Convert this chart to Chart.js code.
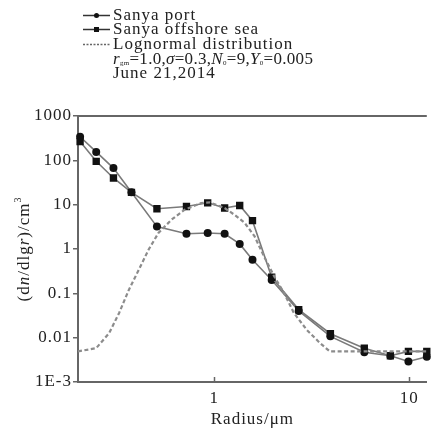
<!DOCTYPE html>
<html>
<head>
<meta charset="utf-8">
<script src="https://cdn.jsdelivr.net/npm/chart.js@4.4.0/dist/chart.umd.min.js"></script>
<style>
  html, body { margin: 0; padding: 0; background: #fff; }
  #wrap { width: 432px; height: 430px; position: relative; }
</style>
</head>
<body>
<div id="wrap"><canvas id="sizeChart" width="432" height="430"></canvas></div>
<script>
// ---------------- Data ----------------
const radiusMeasured = [0.205, 0.248, 0.304, 0.376, 0.508, 0.72, 0.925, 1.13, 1.35, 1.57, 1.97, 2.71, 3.94, 5.88, 8.0, 9.9, 12.3];
const sanyaPort = [340, 155, 67, 19, 3.2, 2.2, 2.3, 2.2, 1.3, 0.57, 0.20, 0.040, 0.0107, 0.0047, 0.0039, 0.0029, 0.0037];
const sanyaOffshore = [265, 95, 40, 19, 8.1, 9.1, 11, 8.4, 9.6, 4.35, 0.23, 0.043, 0.0123, 0.0058, 0.0039, 0.0049, 0.0049];

const radiusLognormal = [0.2, 0.248, 0.289, 0.325, 0.365, 0.41, 0.46, 0.517, 0.604, 0.705, 0.857, 0.95, 1.13, 1.27, 1.43, 1.61, 1.80, 2.03, 2.28, 2.56, 2.98, 3.48, 3.91, 12.3];
const lognormalFit = [0.0049, 0.0058, 0.0127, 0.036, 0.121, 0.34, 0.96, 2.3, 4.6, 7.7, 10.9, 11.2, 8.4, 5.9, 3.9, 1.92, 0.68, 0.24, 0.102, 0.036, 0.015, 0.0076, 0.0049, 0.0049];

const yTicks = [0.001, 0.01, 0.1, 1, 10, 100, 1000];
const yTickLabels = ['1E-3', '0.01', '0.1', '1', '10', '100', '1000'];
const xTicks = [1, 10];
const xTickLabels = ['1', '10'];

// ---------------- Styles ----------------
const FONT = "'Liberation Serif', 'Times New Roman', serif";
const TEXT = '#222';
const AXIS = '#666';
const LINE = '#7a7a7a';

const toPoints = (xs, ys) => xs.map((x, i) => ({ x: x, y: ys[i] }));

// ---------------- Extra drawing: frame, inward x ticks, y title, legend ----------------
const decorPlugin = {
    id: 'decor',
    beforeDraw(chart) {
        chart.ctx.letterSpacing = '1px';
    },
    afterDraw(chart) {
        const ctx = chart.ctx;
        const area = chart.chartArea;
        const xs = chart.scales.x;
        ctx.save();
        ctx.letterSpacing = '1px';

        // top frame line
        ctx.strokeStyle = AXIS;
        ctx.lineWidth = 2;
        ctx.beginPath();
        ctx.moveTo(area.left, area.top);
        ctx.lineTo(area.right, area.top);
        ctx.stroke();

        // inward ticks on x axis
        ctx.lineWidth = 1.5;
        xTicks.forEach(v => {
            const px = Math.round(xs.getPixelForValue(v)) + 0.5;
            ctx.beginPath();
            ctx.moveTo(px, area.bottom);
            ctx.lineTo(px, area.bottom - 5);
            ctx.stroke();
        });

        // y axis title (dn/dlgr)/cm3
        const parts = [
            { t: '(d', f: '17px ' + FONT },
            { t: 'n', f: 'italic 17px ' + FONT },
            { t: '/dlg', f: '17px ' + FONT },
            { t: 'r', f: 'italic 17px ' + FONT },
            { t: ')/cm', f: '17px ' + FONT },
            { t: '3', f: '10px ' + FONT, dy: -7 }
        ];
        ctx.save();
        ctx.translate(25, (area.top + area.bottom) / 2);
        ctx.rotate(-Math.PI / 2);
        ctx.fillStyle = TEXT;
        ctx.textBaseline = 'middle';
        let total = 0;
        parts.forEach(p => { ctx.font = p.f; p.w = ctx.measureText(p.t).width; total += p.w; });
        let cx = -total / 2;
        parts.forEach(p => {
            ctx.font = p.f;
            ctx.fillText(p.t, cx, p.dy || 0);
            cx += p.w;
        });
        ctx.restore();

        // legend
        const lx0 = 83, lx1 = 110, tx = 113;
        ctx.fillStyle = TEXT;
        ctx.textBaseline = 'middle';
        ctx.font = '17px ' + FONT;

        const rows = [
            { y: 15, label: 'Sanya port', marker: 'circle' },
            { y: 29, label: 'Sanya offshore sea', marker: 'rect' },
            { y: 44, label: 'Lognormal distribution', marker: null }
        ];
        rows.forEach(r => {
            ctx.strokeStyle = '#333';
            ctx.lineWidth = 1.5;
            if (r.marker) {
                ctx.setLineDash([]);
            } else {
                ctx.setLineDash([2, 1.5]);
                ctx.strokeStyle = '#666';
            }
            ctx.beginPath();
            ctx.moveTo(lx0, r.y + 0.5);
            ctx.lineTo(lx1, r.y + 0.5);
            ctx.stroke();
            ctx.setLineDash([]);
            ctx.fillStyle = '#111';
            if (r.marker === 'circle') {
                ctx.beginPath();
                ctx.arc((lx0 + lx1) / 2, r.y + 0.5, 2.5, 0, Math.PI * 2);
                ctx.fill();
            } else if (r.marker === 'rect') {
                ctx.fillRect((lx0 + lx1) / 2 - 2.5, r.y - 2, 5, 5);
            }
            ctx.fillStyle = TEXT;
            ctx.font = '17px ' + FONT;
            ctx.fillText(r.label, tx, r.y + 1);
        });

        // formula line: r_gm=1.0, sigma=0.3, N0=9, Y0=0.005
        ctx.letterSpacing = '0.3px';
        const formula = [
            { t: 'r', f: 'italic 17px ' + FONT },
            { t: 'gm', f: '7px ' + FONT, dy: 4 },
            { t: '=1.0,', f: '17px ' + FONT },
            { t: 'σ', f: 'italic 17px ' + FONT },
            { t: '=0.3,', f: '17px ' + FONT },
            { t: 'N', f: 'italic 17px ' + FONT },
            { t: '0', f: '7px ' + FONT, dy: 4 },
            { t: '=9,', f: '17px ' + FONT },
            { t: 'Y', f: 'italic 17px ' + FONT },
            { t: '0', f: '7px ' + FONT, dy: 4 },
            { t: '=0.005', f: '17px ' + FONT }
        ];
        let fx = tx;
        formula.forEach(p => {
            ctx.font = p.f;
            ctx.fillText(p.t, fx, 59.5 + (p.dy || 0));
            fx += ctx.measureText(p.t).width;
        });
        ctx.letterSpacing = '1px';
        ctx.font = '17px ' + FONT;
        ctx.fillText('June 21,2014', tx, 74);

        ctx.restore();
    }
};

// ---------------- Chart ----------------
const ctx = document.getElementById('sizeChart').getContext('2d');
const sizeChart = new Chart(ctx, {
    type: 'line',
    data: {
        datasets: [
            {
                label: 'Lognormal distribution',
                data: toPoints(radiusLognormal, lognormalFit),
                borderColor: '#8c8c8c',
                borderWidth: 2.2,
                borderDash: [4, 2.5],
                pointRadius: 0,
                tension: 0,
                clip: 6
            },
            {
                label: 'Sanya offshore sea',
                data: toPoints(radiusMeasured, sanyaOffshore),
                borderColor: LINE,
                borderWidth: 1.6,
                pointStyle: 'rect',
                pointRadius: 5.2,
                pointBackgroundColor: '#111',
                pointBorderColor: '#111',
                pointBorderWidth: 0,
                tension: 0,
                clip: 6
            },
            {
                label: 'Sanya port',
                data: toPoints(radiusMeasured, sanyaPort),
                borderColor: LINE,
                borderWidth: 1.6,
                pointStyle: 'circle',
                pointRadius: 4,
                pointBackgroundColor: '#111',
                pointBorderColor: '#111',
                pointBorderWidth: 0,
                tension: 0,
                clip: 6
            }
        ]
    },
    options: {
        responsive: false,
        devicePixelRatio: 1,
        animation: false,
        layout: { padding: { top: 116, right: 0, left: 0, bottom: 0 } },
        plugins: {
            legend: { display: false },
            tooltip: { enabled: false }
        },
        scales: {
            x: {
                type: 'logarithmic',
                min: 0.2,
                max: 12.3,
                afterBuildTicks: s => { s.ticks = xTicks.map(v => ({ value: v })); },
                afterFit: s => { s.height = 48; },
                ticks: {
                    autoSkip: false,
                    maxRotation: 0,
                    padding: 6,
                    color: TEXT,
                    font: { family: FONT, size: 17 },
                    callback: v => xTickLabels[xTicks.indexOf(v)]
                },
                grid: { drawOnChartArea: false, drawTicks: false },
                border: { display: true, color: AXIS, width: 2 },
                title: {
                    display: true,
                    text: 'Radius/μm',
                    color: TEXT,
                    font: { family: FONT, size: 17 },
                    padding: { top: 4, bottom: 0 }
                }
            },
            y: {
                type: 'logarithmic',
                min: 0.001,
                max: 1000,
                afterBuildTicks: s => { s.ticks = yTicks.map(v => ({ value: v })); },
                afterFit: s => { s.width = 78; },
                ticks: {
                    autoSkip: false,
                    padding: 1,
                    color: TEXT,
                    font: { family: FONT, size: 17 },
                    callback: v => yTickLabels[yTicks.indexOf(v)]
                },
                grid: { drawOnChartArea: false, drawTicks: true, tickLength: 5, color: AXIS, lineWidth: 1.5 },
                border: { display: true, color: AXIS, width: 2 }
            }
        }
    },
    plugins: [decorPlugin]
});
</script>
</body>
</html>
